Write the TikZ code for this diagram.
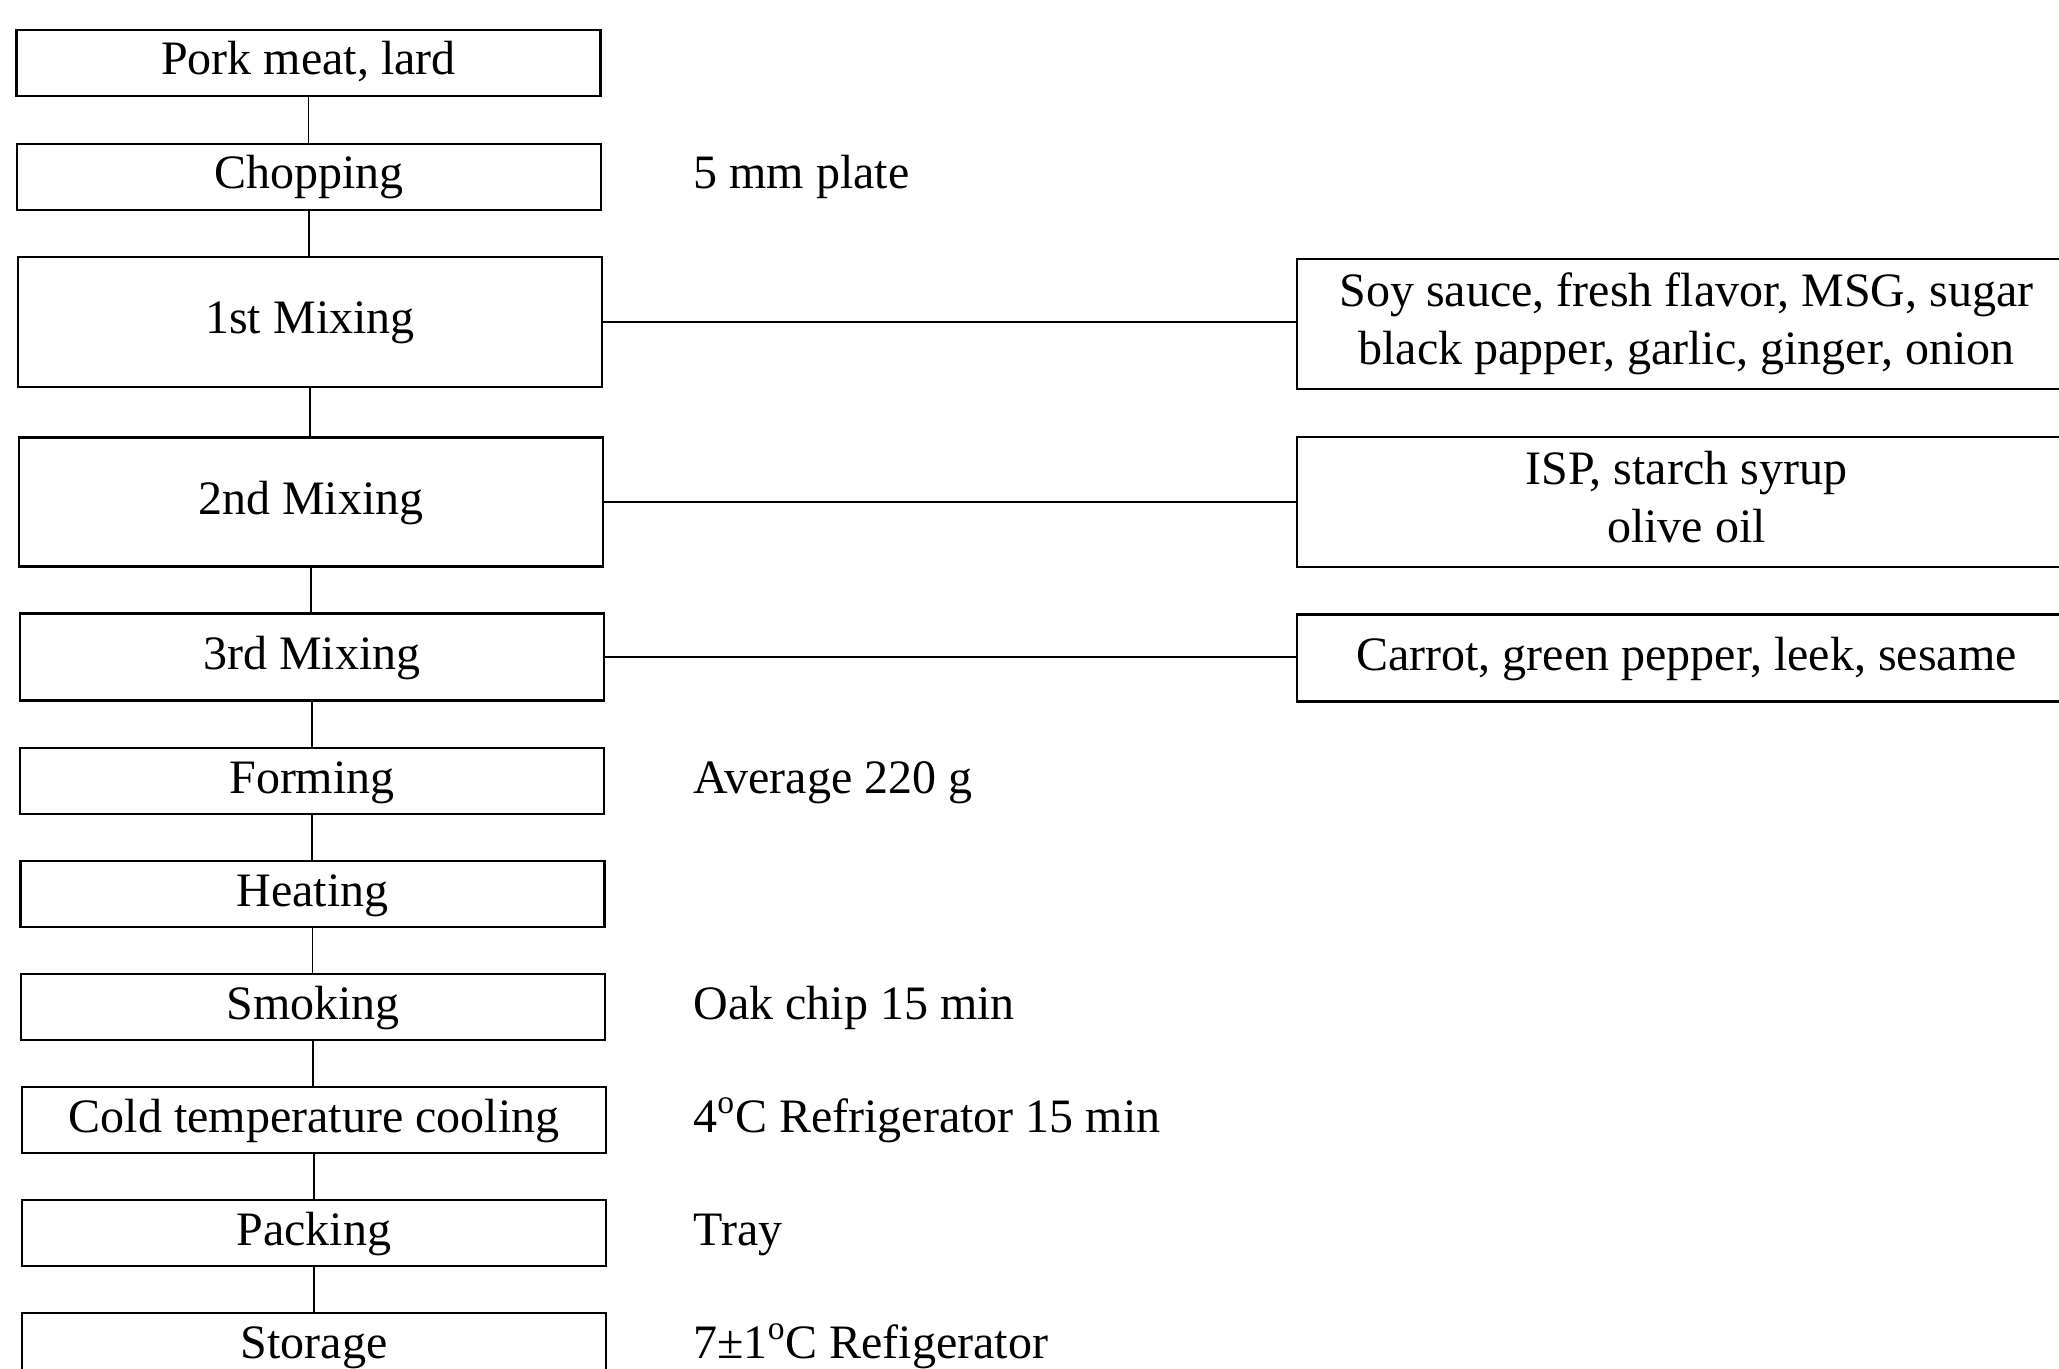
\documentclass[tikz,border=0pt]{standalone}
\usepackage{fontspec}
\setmainfont{Liberation Serif}
\begin{document}
\begin{tikzpicture}[x=0.5pt,y=-0.5pt,
  every node/.style={font=\fontsize{24}{29}\selectfont},
  stepbox/.style={draw, line width=1.4pt, minimum width=292pt, inner sep=0pt, text height=17pt, text depth=5pt},
  ingbox/.style={draw, line width=1.4pt, minimum width=389.5pt, inner sep=0pt, align=center},
  sidelab/.style={anchor=west, inner sep=0pt, text height=17pt, text depth=5pt},
  conn/.style={line width=0.9pt}]
\useasboundingbox (0,0) rectangle (2059,1369);
\node[stepbox, minimum height=33pt] (pork) at (308.5,63) {Pork meat, lard};
\node[stepbox, minimum height=33pt] (chop) at (309,177) {Chopping};
\node[stepbox, minimum height=65pt] (mix1) at (310,322) {1st Mixing};
\node[stepbox, minimum height=64.5pt] (mix2) at (311,502) {2nd Mixing};
\node[stepbox, minimum height=43.5pt] (mix3) at (312,657) {3rd Mixing};
\node[stepbox, minimum height=33pt] (form) at (312,781) {Forming};
\node[stepbox, minimum height=33pt] (heat) at (312.5,894) {Heating};
\node[stepbox, minimum height=33pt] (smoke) at (313,1007) {Smoking};
\node[stepbox, minimum height=33pt] (cool) at (314,1120) {Cold temperature cooling};
\node[stepbox, minimum height=33pt] (pack) at (314,1233) {Packing};
\node[stepbox, minimum height=33pt] (store) at (314,1346) {Storage};

\node[ingbox, minimum height=65pt] (ingA) at (1686.5,324) {Soy sauce, fresh flavor, MSG, sugar\\black papper, garlic, ginger, onion};
\node[ingbox, minimum height=65pt] (ingB) at (1686.5,502) {ISP, starch syrup\\olive oil\vphantom{g}};
\node[ingbox, minimum height=43.5pt, text height=17pt, text depth=5pt] (ingC) at (1686.5,658) {Carrot, green pepper, leek, sesame};

\node[sidelab] (labchop) at (693,177) {5 mm plate};
\node[sidelab] (labform) at (693,781) {Average 220 g};
\node[sidelab] (labsmoke) at (693,1007) {Oak chip 15 min};
\node[sidelab] (labcool) at (693,1120) {4\textsuperscript{o}C Refrigerator 15 min};
\node[sidelab] (labpack) at (693,1233) {Tray};
\node[sidelab] (labstore) at (693,1346) {7±1\textsuperscript{o}C Refigerator};

\foreach \a/\b in {pork/chop, chop/mix1, mix1/mix2, mix2/mix3, mix3/form, form/heat, heat/smoke, smoke/cool, cool/pack, pack/store}
  \draw[conn] (\a.south) -- (\a.south |- \b.north);
\draw[conn] (mix1.east) -- (mix1.east -| ingA.west);
\draw[conn] (mix2.east) -- (mix2.east -| ingB.west);
\draw[conn] (mix3.east) -- (mix3.east -| ingC.west);
\end{tikzpicture}
\end{document}
